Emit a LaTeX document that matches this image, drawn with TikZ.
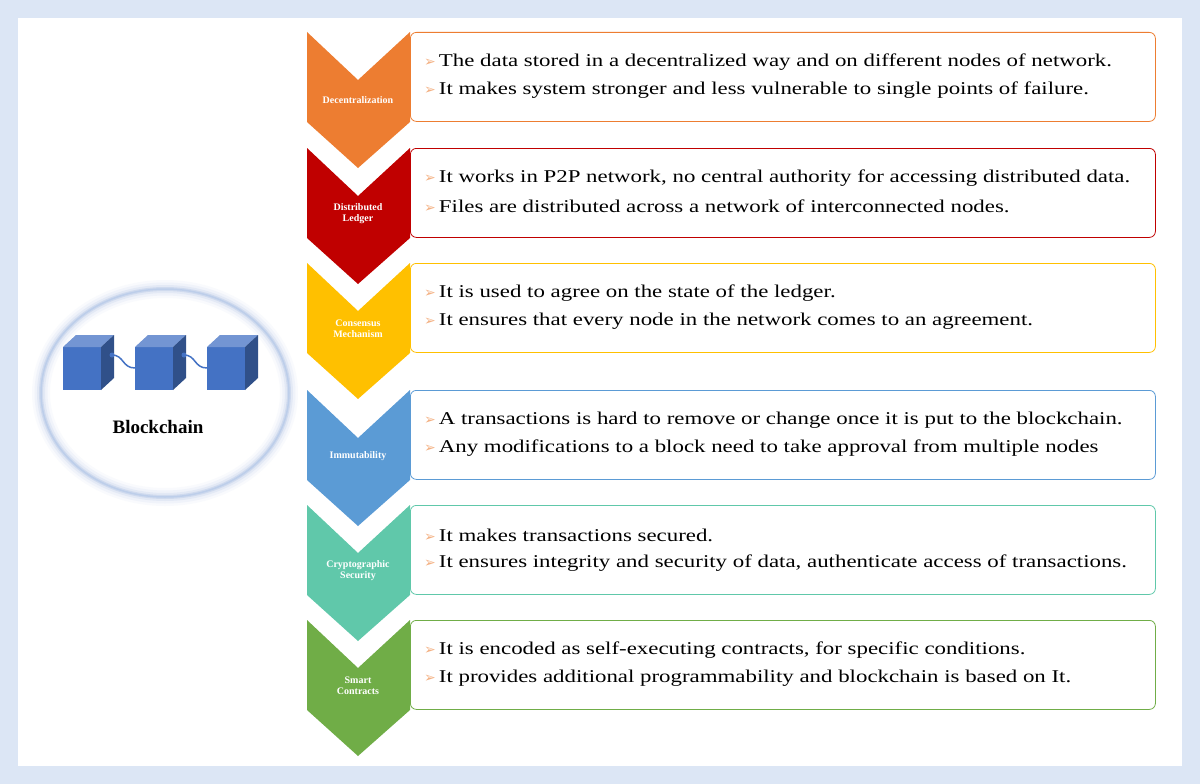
\documentclass[tikz,border=0pt]{standalone}
\usepackage{fontspec}
\setmainfont{Liberation Serif}
\newfontfamily\djfont{DejaVu Sans}
\newfontfamily\widefont[FakeStretch=1.27]{Liberation Serif}
\usetikzlibrary{shapes.geometric}
\definecolor{cA}{RGB}{237,125,49}
\definecolor{cB}{RGB}{192,0,0}
\definecolor{cC}{RGB}{255,192,0}
\definecolor{cD}{RGB}{91,155,213}
\definecolor{cE}{RGB}{96,200,170}
\definecolor{cF}{RGB}{112,173,71}
\definecolor{bul}{RGB}{244,177,131}
\definecolor{cube}{RGB}{68,114,196}
\definecolor{frame}{RGB}{220,230,245}
\tikzset{
 x=1pt,y=-1pt,
 txt/.style={anchor=west,font=\widefont\fontsize{18}{20}\selectfont,inner sep=0},
 lab/.style={text=white,font=\bfseries\fontsize{10}{11}\selectfont,align=center,text width=100pt},
 tbox/.style={draw=#1,line width=0.8pt,rounded corners=6pt,fill=white}
}
\newcommand\bl{{\djfont\color{bul}\fontsize{14}{14}\selectfont ➢}\,}
\newcommand\cubeat[2]{%
 \fill[cube] (#1,#2) rectangle ++(38,-43);
 \fill[cube!75!white] (#1,#2-43) -- ++(13,-12) -- ++(38,0) -- ++(-13,12) -- cycle;
 \fill[cube!70!black] (#1+38,#2) -- ++(13,-12) -- ++(0,-43) -- ++(-13,12) -- cycle;
}
\newcommand\rowitem[7]{%
 \fill[#2] (307,#3) -- (358,#3+48) -- (410,#3) -- (410,#3+90) -- (358,#3+136) -- (307,#3+90) -- cycle;
 \node[tbox=#2,minimum width=745pt,minimum height=89pt,anchor=north west] (b#1) at (410,#3) {};
 \node[lab] (l#1) at (358,#3+#4) {#5};
 \node[txt] (t#1a) at (424,#3+30) {\bl #6};
 \node[txt] (t#1b) at (424,#3+58) {\bl #7};
}
\begin{document}
\begin{tikzpicture}
\useasboundingbox (0,0) rectangle (1200,784);
\fill[frame] (0,0) rectangle (1200,784);
\fill[white] (18,18) rectangle (1182,766);
\foreach \w/\o in {18/0.06,13/0.1,8/0.16,4/0.3}
  \draw[cube!50!white,line width=\w pt,opacity=\o] (165,393) ellipse [x radius=124,y radius=104];
\draw[cube!35!white,line width=1.5pt] (165,393) ellipse [x radius=124,y radius=104];
\node[ellipse,minimum width=248pt,minimum height=208pt] (chain) at (165,393) {};
\cubeat{63}{390}\cubeat{135}{390}\cubeat{207}{390}
\draw[cube,line width=1.5pt] (112,355) .. controls (124,355) and (122,368) .. (135,368);
\draw[cube,line width=1.5pt] (184,355) .. controls (196,355) and (194,368) .. (207,368);
\fill[cube] (112,355) circle (2.5) (184,355) circle (2.5);
\node[font=\bfseries\fontsize{19}{20}\selectfont] (bc) at (158,427) {Blockchain};
\rowitem{1}{cA}{32}{68}{Decentralization}{The data stored in a decentralized way and on different nodes of network.}{It makes system stronger and less vulnerable to single points of failure.}
\rowitem{2}{cB}{148}{66}{Distributed\\Ledger}{It works in P2P network, no central authority for accessing distributed data.}{Files are distributed across a network of interconnected nodes.}
\rowitem{3}{cC}{263}{66}{Consensus\\Mechanism}{It is used to agree on the state of the ledger.}{It ensures that every node in the network comes to an agreement.}
\rowitem{4}{cD}{390}{66}{Immutability}{A transactions is hard to remove or change once it is put to the blockchain.}{Any modifications to a block need to take approval from multiple nodes}
\rowitem{5}{cE}{505}{66}{Cryptographic\\Security}{It makes transactions secured.}{It ensures integrity and security of data, authenticate access of transactions.}
\rowitem{6}{cF}{620}{66}{Smart\\Contracts}{It is encoded as self-executing contracts, for specific conditions.}{It provides additional programmability and blockchain is based on It.}
\end{tikzpicture}
\end{document}
